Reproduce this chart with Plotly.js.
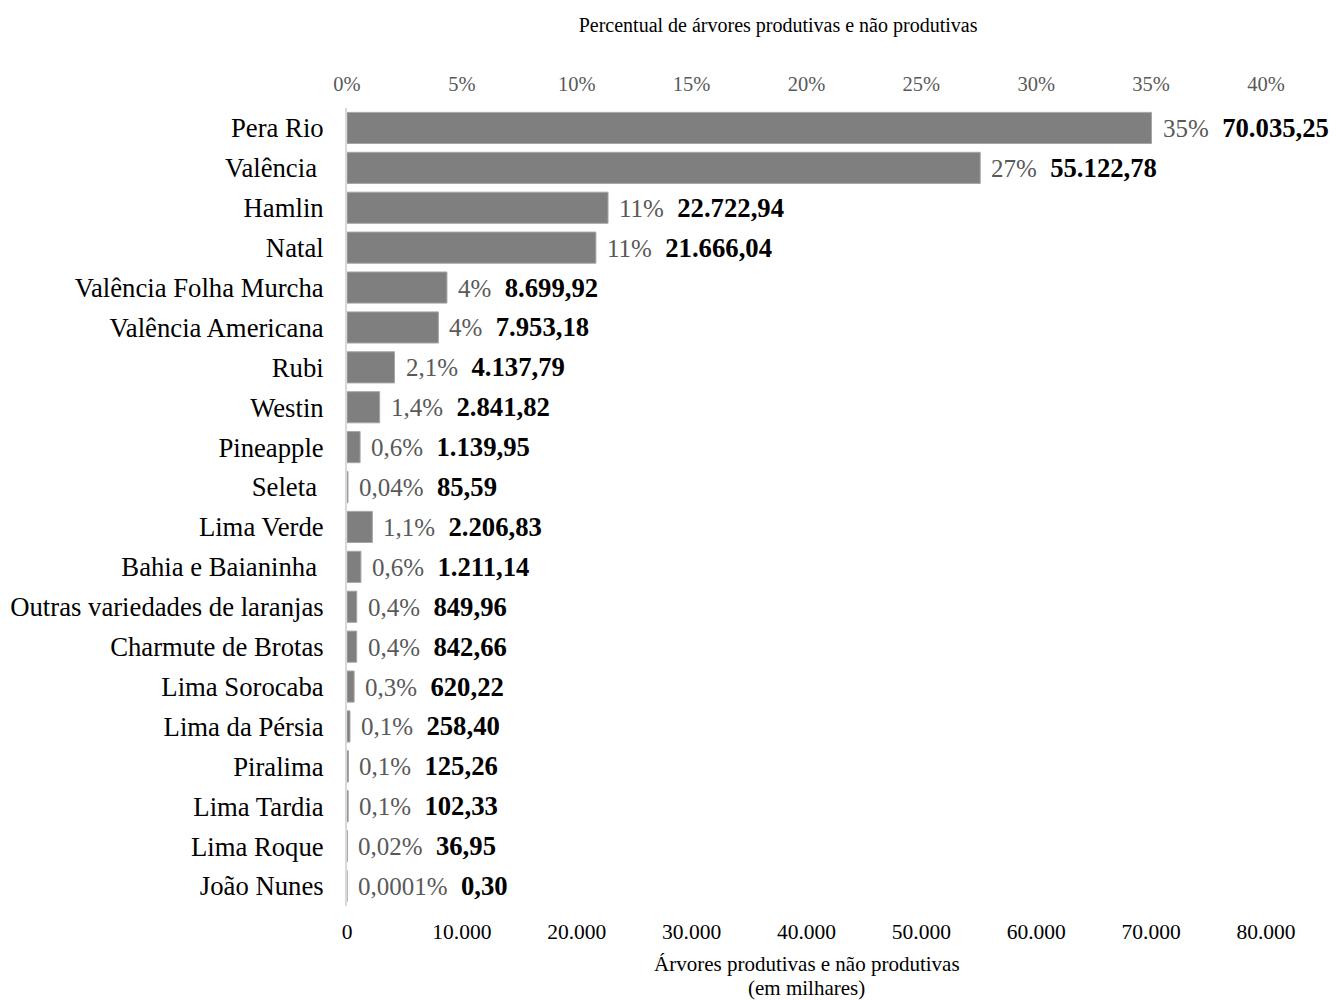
<!DOCTYPE html>
<html>
<head>
<meta charset="utf-8">
<script src="https://cdn.plot.ly/plotly-3.0.1.min.js"></script>
<style>html,body{margin:0;padding:0;background:#fff;} #chart{width:1338px;height:1000px;}</style>
</head>
<body>
<div id="chart"></div>
<script>
const categories = ["Pera Rio","Valência\u00a0","Hamlin","Natal","Valência Folha Murcha","Valência Americana","Rubi","Westin","Pineapple","Seleta\u00a0","Lima Verde","Bahia e Baianinha\u00a0","Outras variedades de laranjas","Charmute de Brotas","Lima Sorocaba","Lima da Pérsia","Piralima","Lima Tardia","Lima Roque","João Nunes"];
const values = [70035.25,55122.78,22722.94,21666.04,8699.92,7953.18,4137.79,2841.82,1139.95,85.59,2206.83,1211.14,849.96,842.66,620.22,258.40,125.26,102.33,36.95,0.30];
const pctShares = [0.35,0.27,0.11,0.11,0.04,0.04,0.021,0.014,0.006,0.0004,0.011,0.006,0.004,0.004,0.003,0.001,0.001,0.001,0.0002,0.000001];
const pctLabels = ["35%","27%","11%","11%","4%","4%","2,1%","1,4%","0,6%","0,04%","1,1%","0,6%","0,4%","0,4%","0,3%","0,1%","0,1%","0,1%","0,02%","0,0001%"];
const valueLabels = ["70.035,25","55.122,78","22.722,94","21.666,04","8.699,92","7.953,18","4.137,79","2.841,82","1.139,95","85,59","2.206,83","1.211,14","849,96","842,66","620,22","258,40","125,26","102,33","36,95","0,30"];
const topTitle = 'Percentual de árvores produtivas e não produtivas';
const bottomTitle = ['Árvores produtivas e não produtivas', '(em milhares)'];

const FONT = "'Liberation Serif', 'Times New Roman', serif";

const barTrace = {
  type: 'bar', orientation: 'h',
  x: values, y: categories,
  marker: {color: '#7f7f7f', line: {color: '#a6a6a6', width: 1}},
  hoverinfo: 'skip', showlegend: false
};
const pctTrace = {
  type: 'scatter', mode: 'markers',
  x: pctShares, y: categories, xaxis: 'x2', yaxis: 'y',
  marker: {opacity: 0, size: 1}, hoverinfo: 'skip', showlegend: false
};

const annotations = categories.map((c, i) => ({
  x: values[i], y: c, xref: 'x', yref: 'y',
  xanchor: 'left', yanchor: 'middle', xshift: 9, showarrow: false,
  text: '<span style="color:#595959;font-size:25px">' + pctLabels[i] + '</span>\u00a0\u00a0<b>' + valueLabels[i] + '</b>',
  font: {family: FONT, size: 26.7, color: '#000000'}
}));
bottomTitle.forEach((t, k) => annotations.push({
  x: 0.5, y: 0, xref: 'paper', yref: 'paper', xanchor: 'center', yanchor: 'middle',
  yshift: k === 0 ? -58 : -82, showarrow: false, text: t,
  font: {family: FONT, size: 21, color: '#000000'}
}));

const layout = {
  width: 1338, height: 1000,
  margin: {l: 347, r: 72, t: 108, b: 94, autoexpand: false},
  paper_bgcolor: '#ffffff', plot_bgcolor: '#ffffff',
  separators: ',.',
  font: {family: FONT, color: '#000000'},
  bargap: 0.22,
  title: {
    text: topTitle, automargin: false,
    font: {family: FONT, size: 20, color: '#000000'},
    xref: 'container', x: 0.5815, xanchor: 'center',
    yref: 'container', y: 0.975, yanchor: 'middle'
  },
  xaxis: {
    range: [0, 80000], dtick: 10000, tickformat: ',d', automargin: false,
    showgrid: false, zeroline: false, showline: false, ticks: '', ticklen: 0,
    ticklabelstandoff: 10,
    tickfont: {family: FONT, size: 21.5, color: '#000000'}
  },
  xaxis2: {
    overlaying: 'x', side: 'top', range: [0, 0.4], dtick: 0.05, tickformat: '.0%', automargin: false,
    showgrid: false, zeroline: false, showline: false, ticks: '', ticklen: 0,
    ticklabelstandoff: 12,
    tickfont: {family: FONT, size: 20.5, color: '#595959'}
  },
  yaxis: {
    type: 'category', range: [categories.length - 0.5, -0.5], automargin: false,
    showgrid: false, zeroline: false, showline: true, linecolor: '#d9d9d9', linewidth: 2,
    ticks: '', ticklen: 0, ticklabelstandoff: 16,
    tickfont: {family: FONT, size: 26.7, color: '#000000'}
  },
  annotations: annotations
};

Plotly.newPlot('chart', [barTrace, pctTrace], layout, {displayModeBar: false, staticPlot: true});
</script>
</body>
</html>
